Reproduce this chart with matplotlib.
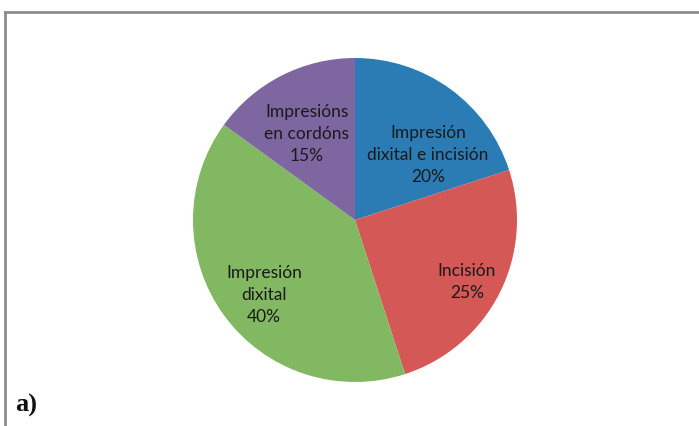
import matplotlib
matplotlib.use("Agg")
from matplotlib import pyplot as plt
from matplotlib.lines import Line2D

# Datos del grafico
categorias = ["Impresión\ndixital e incisión", "Incisión", "Impresión\ndixital", "Impresións\nen cordóns"]
porcentajes = [20, 25, 40, 15]
colores = ["#2b7bb5", "#d35856", "#82b862", "#7e66a0"]
# posiciones de las etiquetas (pixeles, y hacia arriba)
pos_etiquetas = [(428, 271), (467, 144), (264, 131), (307, 292)]

W, H = 699, 426
fig = plt.figure(figsize=(W / 100, H / 100), dpi=100)
ax = fig.add_axes([0, 0, 1, 1])

ax.pie(porcentajes, colors=colores, startangle=90, counterclock=False,
       center=(355, 206), radius=162, frame=True,
       wedgeprops=dict(linewidth=0))
ax.set_xlim(0, W)
ax.set_ylim(0, H)
ax.set_aspect("equal")
ax.axis("off")

for cat, p, (x, y) in zip(categorias, porcentajes, pos_etiquetas):
    ax.text(x, y, f"{cat}\n{p}%", ha="center", va="center", multialignment="center",
            fontsize=12.5, family="Lato", color="#1a1a1a", linespacing=1.45)

# marco gris
ax.add_line(Line2D([5, 5], [0, H - 12], color="#8c8c8c", lw=2))
ax.add_line(Line2D([5, W], [H - 12, H - 12], color="#8c8c8c", lw=2))

ax.text(15, 21, "a)", fontsize=19, family="Liberation Serif", fontweight="bold",
        ha="left", va="center", color="#111111")

fig.savefig("out.png", dpi=100)
